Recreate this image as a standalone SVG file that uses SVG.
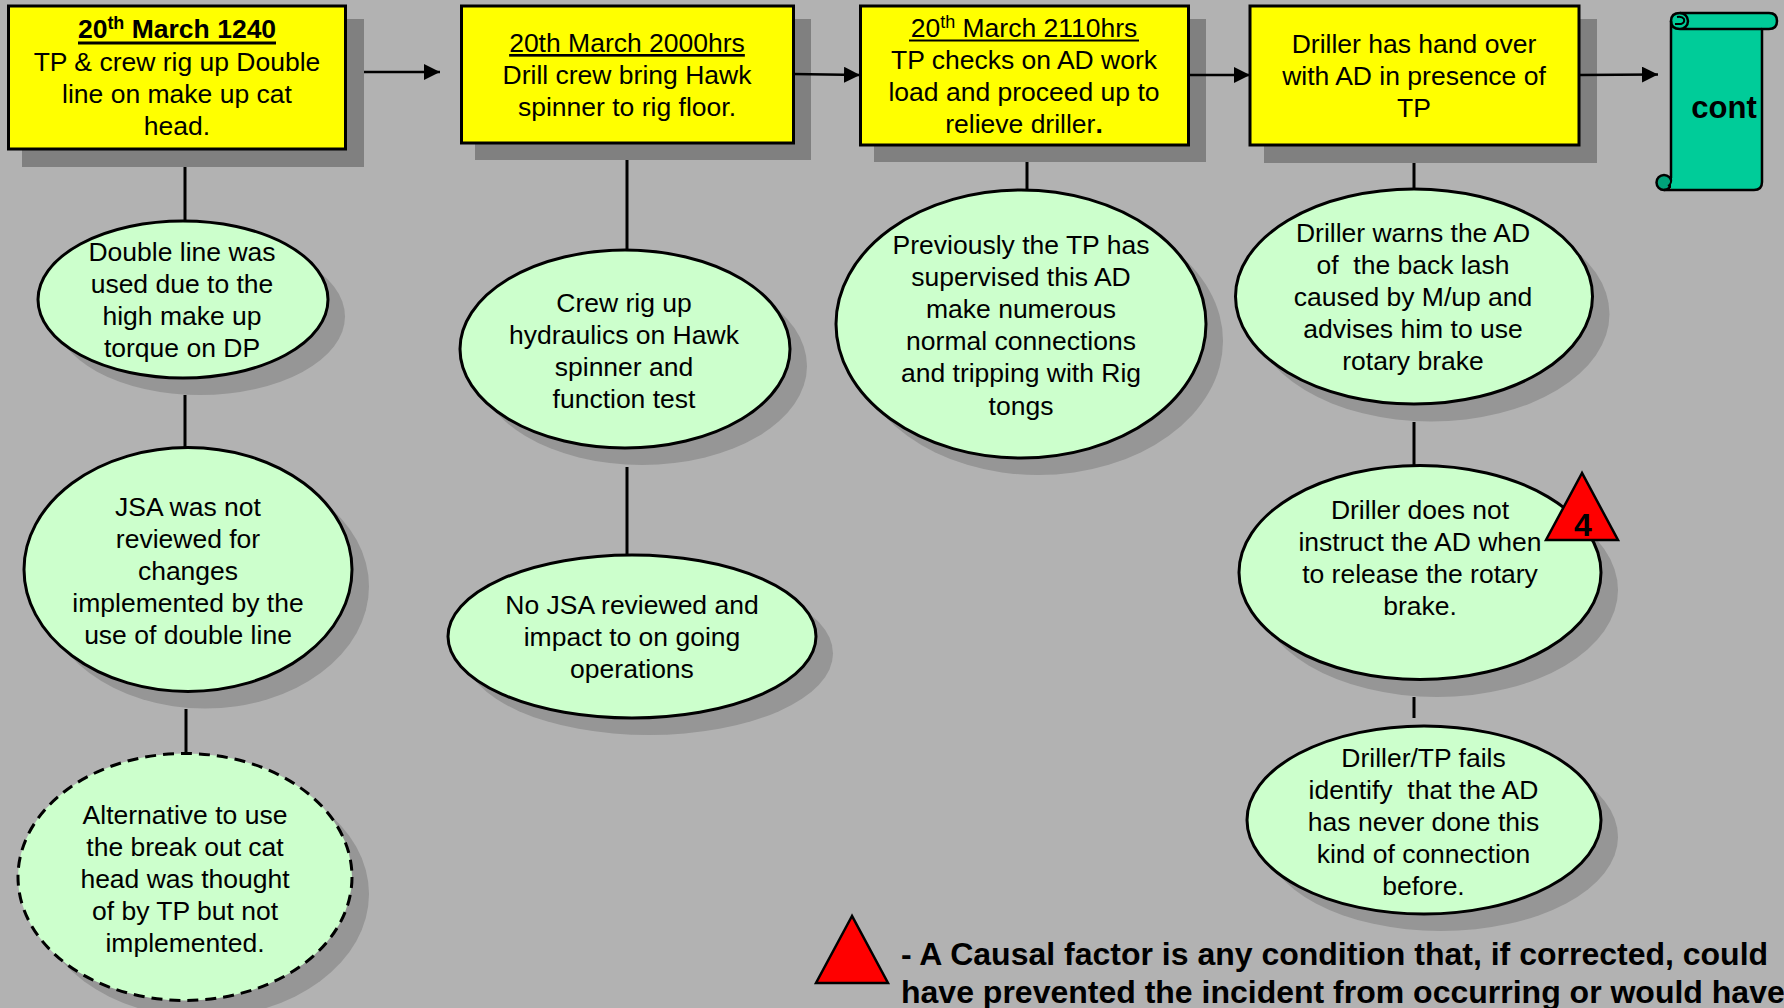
<svg xmlns="http://www.w3.org/2000/svg" width="1784" height="1008" viewBox="0 0 1784 1008">
<defs>
<style>
text{font-family:"Liberation Sans",Arial,sans-serif;font-size:26.5px;fill:#000;text-anchor:middle}
.b{font-weight:bold}
.box{fill:#ff0;stroke:#000;stroke-width:3}
.bs{fill:#808080}
.el{fill:#ccffcc;stroke:#000;stroke-width:3}
.es{fill:#969696}
.c{stroke:#000;stroke-width:3;fill:none}
.a{stroke:#000;stroke-width:2.5;fill:none;marker-end:url(#ah)}
.tri{fill:#f00;stroke:#000;stroke-width:2.5}
.lg{text-anchor:start;font-size:32px}
</style>
<marker id="ah" markerUnits="userSpaceOnUse" markerWidth="16" markerHeight="16" refX="16" refY="8" orient="auto"><path d="M0,0L16,8L0,16Z" fill="#000"/></marker>
</defs>
<rect width="1784" height="1008" fill="#b2b2b2"/>
<g id="box1"><rect class="bs" x="22" y="19" width="342" height="148"/><rect class="box" x="8.500" y="6" width="337" height="143"/>
<text class="b" x="177" y="38">20<tspan font-size="18" dy="-9">th</tspan><tspan dy="9"> March 1240</tspan></text><rect x="78" y="41.500" width="198" height="3"/>
<text x="177" y="71">TP &amp; crew rig up Double</text><text x="177" y="103">line on make up cat</text><text x="177" y="135">head.</text></g>
<g id="box2"><rect class="bs" x="475" y="19" width="336" height="141"/><rect class="box" x="461.500" y="6" width="332" height="137"/>
<text x="627" y="52" text-decoration="underline">20th March 2000hrs</text><text x="627" y="84">Drill crew bring Hawk</text><text x="627" y="116">spinner to rig floor.</text></g>
<g id="box3"><rect class="bs" x="874" y="19" width="332" height="143"/><rect class="box" x="860.500" y="6" width="328" height="139"/>
<text x="1024" y="37">20<tspan font-size="18" dy="-9">th</tspan><tspan dy="9"> March 2110hrs</tspan></text><rect x="909" y="39.500" width="230" height="2"/>
<text x="1024" y="69">TP checks on AD work</text><text x="1024" y="101">load and proceed up to</text><text x="1024" y="133">relieve driller<tspan class="b">.</tspan></text></g>
<g id="box4"><rect class="bs" x="1264" y="19" width="333" height="144"/><rect class="box" x="1250" y="6" width="329" height="139"/>
<text x="1414" y="53">Driller has hand over</text><text x="1414" y="85">with AD in presence of</text><text x="1414" y="117">TP</text></g>
<g id="scroll">
<circle cx="1664" cy="182.500" r="7.500" fill="#00a37a" stroke="#000" stroke-width="2.500"/>
<path d="M1671,21Q1671,13 1680,13H1769Q1777,13 1777,21Q1777,29 1769,29H1762V182Q1762,190 1754,190H1671Z" fill="#00cc99"/>
<path d="M1671,178V21Q1671,13 1680,13H1769Q1777,13 1777,21Q1777,29 1769,29H1762V182Q1762,190 1754,190H1664" fill="none" stroke="#000" stroke-width="2.500" stroke-linejoin="round"/>
<path d="M1671,178Q1672,184 1668,186" fill="none" stroke="#000" stroke-width="2"/>
<path d="M1680,13A8,8 0 0 1 1680,29H1762M1680,29Q1671,29 1671,21" fill="none" stroke="#000" stroke-width="2.500"/>
<path d="M1675,24H1681Q1685,23 1684,19Q1682,16 1677,17" fill="none" stroke="#000" stroke-width="2"/>
<text class="b" x="1724" y="118" style="font-size:31px">cont</text></g>
<g id="e1"><ellipse class="es" cx="200" cy="316.500" rx="145" ry="78.500"/><ellipse class="el" cx="183" cy="299.500" rx="145" ry="78.500"/>
<text x="182" y="261">Double line was</text><text x="182" y="293">used due to the</text><text x="182" y="325">high make up</text><text x="182" y="357">torque on DP</text></g>
<g id="e2"><ellipse class="es" cx="205" cy="586.500" rx="164" ry="122"/><ellipse class="el" cx="188" cy="569.500" rx="164" ry="122"/>
<text x="188" y="516">JSA was not</text><text x="188" y="548">reviewed for</text><text x="188" y="580">changes</text><text x="188" y="612">implemented by the</text><text x="188" y="644">use of double line</text></g>
<g id="e3"><ellipse class="es" cx="202" cy="894" rx="167" ry="123.500"/><ellipse class="el" cx="185" cy="877" rx="167" ry="123.500" stroke-dasharray="11 7"/>
<text x="185" y="824">Alternative to use</text><text x="185" y="856">the break out cat</text><text x="185" y="888">head was thought</text><text x="185" y="920">of by TP but not</text><text x="185" y="952">implemented.</text></g>
<g id="e4"><ellipse class="es" cx="642" cy="366" rx="165" ry="99"/><ellipse class="el" cx="625" cy="349" rx="165" ry="99"/>
<text x="624" y="312">Crew rig up</text><text x="624" y="344">hydraulics on Hawk</text><text x="624" y="376">spinner and</text><text x="624" y="408">function test</text></g>
<g id="e5"><ellipse class="es" cx="649" cy="653.500" rx="184" ry="81.500"/><ellipse class="el" cx="632" cy="636.500" rx="184" ry="81.500"/>
<text x="632" y="614">No JSA reviewed and</text><text x="632" y="646">impact to on going</text><text x="632" y="678">operations</text></g>
<g id="e6"><ellipse class="es" cx="1038" cy="341" rx="185" ry="134"/><ellipse class="el" cx="1021" cy="324" rx="185" ry="134"/>
<text x="1021" y="254">Previously the TP has</text><text x="1021" y="286">supervised this AD</text><text x="1021" y="318">make numerous</text><text x="1021" y="350">normal connections</text><text x="1021" y="382">and tripping with Rig</text><text x="1021" y="415">tongs</text></g>
<g id="e7"><ellipse class="es" cx="1431" cy="314" rx="178.500" ry="107.500"/><ellipse class="el" cx="1414" cy="296.500" rx="178.500" ry="107.500"/>
<text x="1413" y="242">Driller warns the AD</text><text x="1413" y="274" xml:space="preserve">of  the back lash</text><text x="1413" y="306">caused by M/up and</text><text x="1413" y="338">advises him to use</text><text x="1413" y="370">rotary brake</text></g>
<g id="e8"><ellipse class="es" cx="1437" cy="590" rx="181" ry="107"/><ellipse class="el" cx="1420" cy="572.500" rx="181" ry="107"/>
<text x="1420" y="519">Driller does not</text><text x="1420" y="551">instruct the AD when</text><text x="1420" y="583">to release the rotary</text><text x="1420" y="615">brake.</text></g>
<g id="e9"><ellipse class="es" cx="1441" cy="837" rx="177" ry="94"/><ellipse class="el" cx="1424" cy="820" rx="177" ry="94"/>
<text x="1423.500" y="767">Driller/TP fails</text><text x="1423.500" y="799" xml:space="preserve">identify  that the AD</text><text x="1423.500" y="831">has never done this</text><text x="1423.500" y="863">kind of connection</text><text x="1423.500" y="895">before.</text></g>
<g id="connectors">
<line class="c" x1="185" y1="167" x2="185" y2="221"/>
<line class="c" x1="185" y1="395" x2="185" y2="447"/>
<line class="c" x1="186" y1="709" x2="186" y2="754"/>
<line class="c" x1="627" y1="160" x2="627" y2="250"/>
<line class="c" x1="627" y1="467" x2="627" y2="555"/>
<line class="c" x1="1027" y1="162" x2="1027" y2="190"/>
<line class="c" x1="1414" y1="163" x2="1414" y2="189"/>
<line class="c" x1="1414" y1="422" x2="1414" y2="466"/>
<line class="c" x1="1414" y1="697" x2="1414" y2="718"/>
<line class="a" x1="364" y1="72" x2="440" y2="72"/>
<line class="a" x1="793" y1="74" x2="860" y2="75"/>
<line class="a" x1="1189" y1="75" x2="1250" y2="75"/>
<line class="a" x1="1579" y1="75" x2="1658" y2="74.500"/>
</g>
<g id="factor4"><polygon class="tri" points="1582,473 1546,540 1618,540"/><text class="b" x="1583" y="536" style="font-size:32px">4</text></g>
<g id="legend"><polygon class="tri" points="852,916 816,983 888,983"/>
<text class="b lg" x="901" y="965">- A Causal factor is any condition that, if corrected, could</text>
<text class="b lg" x="901" y="1003">have prevented the incident from occurring or would have</text></g>
</svg>
